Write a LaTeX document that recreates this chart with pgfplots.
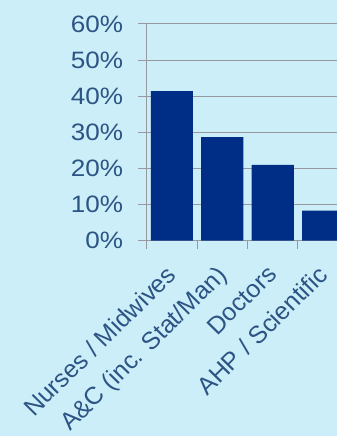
\documentclass[border=0pt]{standalone}
\usepackage{pgfplots}
\pgfplotsset{compat=1.18}
\usepackage{fontspec}
\setmainfont{Liberation Sans}
\definecolor{bg}{RGB}{204,238,248}
\definecolor{barc}{RGB}{0,46,135}
\definecolor{txt}{RGB}{44,84,132}
\definecolor{grd}{RGB}{150,154,158}
\begin{document}
\begin{tikzpicture}
\useasboundingbox (0,0) rectangle (337pt,436pt);
\clip (0,0) rectangle (337pt,436pt);
\fill[bg] (0,0) rectangle (337pt,436pt);
\begin{axis}[
  at={(146.5pt,195.3pt)}, anchor=south west,
  scale only axis, width=202pt, height=216.7pt,
  xmin=-0.5, xmax=3.5, ymin=0, ymax=60,
  axis lines*=left,
  axis line style={grd, line width=1pt, -},
  ymajorgrids, grid style={grd, line width=1pt},
  tick align=outside,
  major tick length=8pt, minor tick length=8pt,
  ytick={0,10,20,30,40,50,60},
  yticklabels={0\%,10\%,20\%,30\%,40\%,50\%,60\%},
  xtick={0,1,2,3},
  xticklabels={Nurses / Midwives, A\&C (inc. Stat/Man), Doctors, AHP / Scientific},
  minor xtick={-0.5,0.5,1.5,2.5,3.5},
  major x tick style={draw=none},
  minor x tick style={grd, line width=1pt},
  major y tick style={grd, line width=1pt},
  ticklabel style={text=txt},
  yticklabel style={font=\fontsize{23.7}{28}\selectfont, xshift=-11.5pt, xscale=1.1},
  xticklabel style={font=\fontsize{24.5}{28}\selectfont, xshift=-7pt, yshift=-14pt, xscale=1.02, rotate=45, anchor=north east, inner sep=1pt},
  ybar, bar width=42pt,
]
\addplot[fill=barc, draw=none] coordinates {(0,41.4) (1,28.7) (2,21.0) (3,8.3)};
\end{axis}
\end{tikzpicture}
\end{document}
